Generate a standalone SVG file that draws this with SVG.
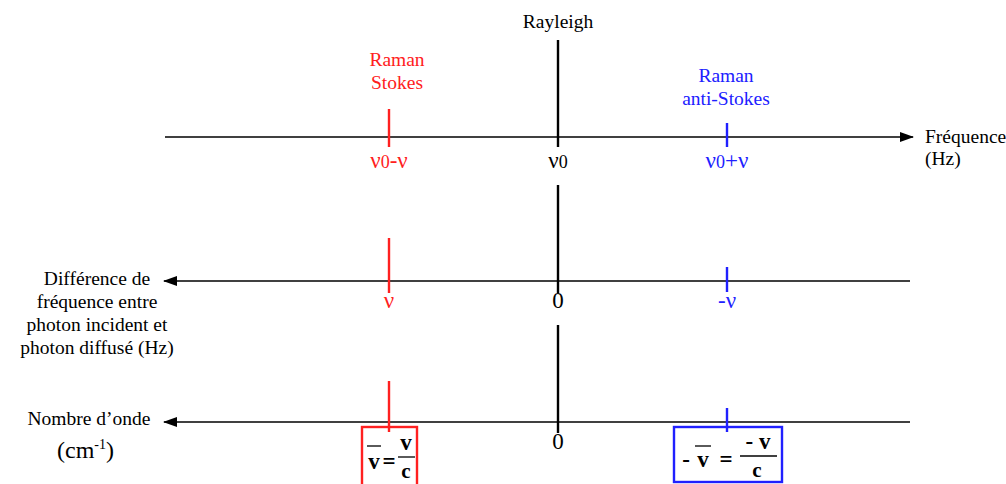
<svg xmlns="http://www.w3.org/2000/svg" width="1006" height="484" viewBox="0 0 1006 484">
<style>
text{font-family:"Liberation Serif","Times New Roman",serif;font-size:19.5px;fill:#000}
.r{fill:#ff2020}.b{fill:#2020ff}
.ax{stroke:#000;stroke-width:1.6;fill:none}
.k{stroke:#000;stroke-width:2.4}
.rl{stroke:#ff2020;stroke-width:2.4}
.bl{stroke:#2020ff;stroke-width:2.4}
.f{font-weight:bold;font-size:23px}
.m{text-anchor:middle}
.n{font-size:23px}
.s{font-size:18px}
</style>
<defs>
<marker id="ah" markerWidth="14" markerHeight="10" refX="13" refY="5" orient="auto" markerUnits="userSpaceOnUse">
<path d="M0,0 L14,5 L0,10 Z" fill="#000"/>
</marker>
</defs>
<rect width="1006" height="484" fill="#fff"/>
<g id="connectors">
<line class="ax" x1="165" y1="137" x2="913" y2="137" marker-end="url(#ah)"/>
<line class="ax" x1="910" y1="281" x2="164" y2="281" marker-end="url(#ah)"/>
<line class="ax" x1="910" y1="422" x2="164" y2="422" marker-end="url(#ah)"/>
<line class="k" x1="558" y1="40" x2="558" y2="147"/>
<line class="rl" x1="389" y1="109" x2="389" y2="147"/>
<line class="bl" x1="727" y1="123" x2="727" y2="147"/>
<line class="k" x1="558" y1="185" x2="558" y2="293"/>
<line class="rl" x1="389" y1="238" x2="389" y2="293"/>
<line class="bl" x1="727" y1="267" x2="727" y2="292"/>
<line class="k" x1="558" y1="325" x2="558" y2="433"/>
<line class="rl" x1="389" y1="381" x2="389" y2="432"/>
<line class="bl" x1="727" y1="408" x2="727" y2="432"/>
</g>
<g id="rayleigh"><text class="m" x="558" y="28">Rayleigh</text></g>
<g id="stokes"><text class="m r" x="397" y="66">Raman</text><text class="m r" x="397" y="89">Stokes</text></g>
<g id="antistokes"><text class="m b" x="726" y="82">Raman</text><text class="m b" x="726" y="105">anti-Stokes</text></g>
<g id="freq"><text x="925" y="143">Fréquence</text><text x="925" y="165">(Hz)</text></g>
<g id="top-labels">
<text class="m r n" x="389" y="168">ν<tspan class="s">0</tspan>-ν</text>
<text class="m n" x="558" y="168">ν<tspan class="s">0</tspan></text>
<text class="m b n" x="727" y="168">ν<tspan class="s">0</tspan>+ν</text>
</g>
<g id="diff-label">
<text class="m" x="97" y="285">Différence de</text>
<text class="m" x="97" y="308">fréquence entre</text>
<text class="m" x="97" y="331">photon incident et</text>
<text class="m" x="97" y="354">photon diffusé (Hz)</text>
</g>
<g id="mid-labels">
<text class="m r n" x="389" y="308">ν</text>
<text class="m n" x="558" y="308">0</text>
<text class="m b n" x="727" y="308">-ν</text>
</g>
<g id="wave-label">
<text class="m" x="89" y="425">Nombre d’onde</text>
<text x="57" y="458" style="font-size:24px">(cm<tspan dy="-9" style="font-size:14px">-1</tspan><tspan dy="9">)</tspan></text>
</g>
<g id="bot-zero"><text class="m n" x="558" y="449">0</text></g>
<g id="red-box">
<rect x="362" y="427" width="55" height="60" fill="none" stroke="#ff2020" stroke-width="2.4"/>
<text class="f m" x="374" y="469">v</text>
<line x1="367" y1="446" x2="381" y2="446" stroke="#000" stroke-width="1.3"/>
<text class="f m" x="389" y="469">=</text>
<text class="f m" x="406" y="450">v</text>
<line x1="398" y1="457" x2="415" y2="457" stroke="#000" stroke-width="1.3"/>
<text class="f m" x="406" y="478" style="font-size:21px">c</text>
</g>
<g id="blue-box">
<rect x="674" y="427" width="108" height="55" fill="none" stroke="#2020ff" stroke-width="2.4"/>
<text class="f m" x="686" y="467">-</text>
<text class="f m" x="703" y="467">v</text>
<line x1="695" y1="446" x2="711" y2="446" stroke="#000" stroke-width="1.3"/>
<text class="f m" x="726" y="467">=</text>
<text class="f m" x="758" y="449">-  v</text>
<line x1="740" y1="456" x2="777" y2="456" stroke="#000" stroke-width="1.3"/>
<text class="f m" x="757" y="477" style="font-size:21px">c</text>
</g>
</svg>
